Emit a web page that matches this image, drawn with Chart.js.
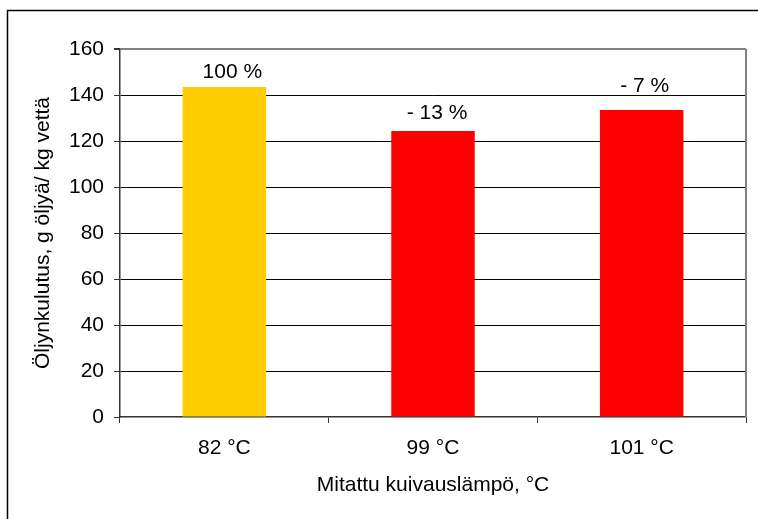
<!DOCTYPE html>
<html>
<head>
<meta charset="utf-8">
<script src="https://cdn.jsdelivr.net/npm/chart.js@4/dist/chart.umd.min.js"></script>
<style>
  html, body { margin: 0; padding: 0; background: #fff; }
  #wrap { width: 758px; height: 519px; position: relative; }
</style>
</head>
<body>
<div id="wrap"><canvas id="c" width="758" height="519"></canvas></div>
<script>
// Oil consumption per kg of evaporated water at three measured drying temperatures
const categories = ['82 °C', '99 °C', '101 °C'];
const consumption = [143.5, 124.3, 133.5];
const changeLabels = ['100 %', '- 13 %', '- 7 %'];
const barColors = ['#FFCC00', '#FF0000', '#FF0000'];
const yTicks = [0, 20, 40, 60, 80, 100, 120, 140, 160];

// label placement relative to each bar: horizontal nudge and lift above the bar top (px)
const labelNudge = [8, 4, 3];
const labelLift = [9, 12, 18];

const FONT = "'Liberation Sans', Arial, sans-serif";
const FS = 21;

const framePlugin = {
  id: 'frame',
  beforeDraw(chart) {
    const ctx = chart.ctx;
    ctx.save();
    ctx.fillStyle = '#fff';
    ctx.fillRect(0, 0, chart.width, chart.height);
    ctx.strokeStyle = '#000';
    ctx.lineWidth = 1.5;
    ctx.strokeRect(7.5, 10.5, 1000, 1000);
    ctx.restore();
  },
  afterDatasetsDraw(chart) {
    const ctx = chart.ctx;
    const a = chart.chartArea;
    ctx.save();
    ctx.strokeStyle = '#808080';
    ctx.lineWidth = 2;
    ctx.beginPath();
    ctx.moveTo(a.right, a.top);
    ctx.lineTo(a.right, a.bottom);
    ctx.stroke();
    // value-change labels above each bar
    const meta = chart.getDatasetMeta(0);
    ctx.fillStyle = '#000';
    ctx.font = FS + 'px ' + FONT;
    ctx.textAlign = 'center';
    ctx.textBaseline = 'alphabetic';
    meta.data.forEach((bar, i) => {
      ctx.fillText(changeLabels[i], bar.x + labelNudge[i], bar.y - labelLift[i]);
    });
    ctx.restore();
  }
};

new Chart(document.getElementById('c'), {
  type: 'bar',
  data: {
    labels: categories,
    datasets: [{
      data: consumption,
      backgroundColor: barColors,
      borderWidth: 0,
      barPercentage: 0.4,
      categoryPercentage: 1.0
    }]
  },
  options: {
    responsive: false,
    animation: false,
    events: [],
    layout: { padding: { left: 0, top: 49, right: 12, bottom: 0 } },
    plugins: {
      legend: { display: false },
      tooltip: { enabled: false }
    },
    scales: {
      x: {
        offset: true,
        afterFit(scale) { scale.height = 102; },
        grid: {
          offset: true,
          drawOnChartArea: false,
          drawTicks: true,
          tickLength: 6,
          tickColor: '#333',
          tickWidth: 1
        },
        border: { display: true, color: '#333', width: 1.5 },
        ticks: {
          color: '#000',
          font: { family: FONT, size: FS },
          padding: 13,
          maxRotation: 0
        },
        title: {
          display: true,
          text: 'Mitattu kuivauslämpö, °C',
          color: '#000',
          font: { family: FONT, size: FS },
          padding: { top: 0, bottom: 21 }
        }
      },
      y: {
        min: 0,
        max: 160,
        afterFit(scale) { scale.width = 120; },
        afterBuildTicks(scale) { scale.ticks = yTicks.map(v => ({ value: v })); },
        grid: {
          drawTicks: true,
          tickLength: 6,
          tickColor: '#333',
          color(ctx) {
            const v = ctx.tick && ctx.tick.value;
            if (v === 0) return 'rgba(0,0,0,0)';
            return v === 160 ? '#808080' : '#000';
          },
          lineWidth(ctx) {
            return ctx.tick && ctx.tick.value === 160 ? 2 : 1;
          }
        },
        border: { display: true, color: '#333', width: 1.5 },
        ticks: {
          color: '#000',
          font: { family: FONT, size: FS },
          padding: 10
        },
        title: {
          display: true,
          text: 'Öljynkulutus, g öljyä/ kg vettä',
          color: '#000',
          font: { family: FONT, size: FS },
          padding: { top: 31, bottom: 0 }
        }
      }
    }
  },
  plugins: [framePlugin]
});
</script>
</body>
</html>
